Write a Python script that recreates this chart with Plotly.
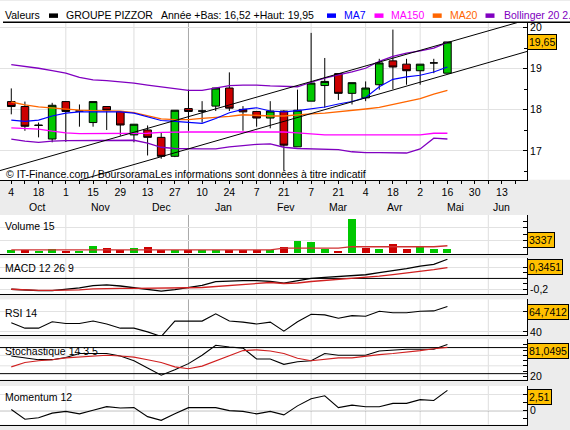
import pandas as pd
import plotly.graph_objects as go

# ---------------- data ----------------
weeks = pd.date_range("2004-10-04", periods=33, freq="7D")

opens = [18.20, 18.08, 17.63, 17.29, 18.20, 17.97, 17.69, 18.08, 17.96, 17.39, 17.51, 17.33, 16.87, 18.03, 17.97, 18.09, 18.53,
         18.01, 17.96, 17.80, 17.97, 17.10, 18.21, 18.59, 18.88, 18.40, 18.29, 18.61, 19.19, 19.11, 18.95, 19.14, 18.89]
highs = [18.52, 18.20, 17.69, 18.17, 18.21, 18.13, 18.20, 18.08, 17.96, 17.65, 17.62, 17.45, 17.99, 18.49, 18.21, 18.53, 18.91,
         18.09, 17.96, 18.21, 17.99, 18.49, 19.87, 19.26, 18.88, 18.66, 18.69, 19.24, 19.95, 19.24, 19.11, 19.24, 19.65]
lows = [17.89, 17.49, 17.33, 17.21, 17.22, 17.59, 17.59, 17.51, 17.37, 17.21, 16.89, 16.81, 16.85, 17.49, 17.69, 17.97, 17.97,
        17.49, 17.59, 17.55, 16.52, 17.10, 18.21, 18.05, 18.24, 18.13, 18.21, 18.49, 18.50, 18.61, 18.61, 18.89, 18.89]
closes = [18.08, 17.60, 17.62, 18.11, 17.96, 17.97, 18.20, 17.99, 17.63, 17.65, 17.33, 16.87, 17.99, 17.96, 17.97, 18.53, 18.04,
          17.95, 17.80, 17.97, 17.14, 17.99, 18.65, 18.69, 18.40, 18.66, 18.53, 19.14, 19.04, 18.95, 19.11, 19.14, 19.65]

ma7 = [17.75, 17.72, 17.75, 17.85, 17.92, 17.95, 17.95, 17.95, 17.95, 17.92, 17.83, 17.74, 17.72, 17.70, 17.67, 17.79, 17.93,
       18.01, 18.05, 17.97, 17.95, 17.98, 18.02, 18.07, 18.14, 18.20, 18.30, 18.56, 18.74, 18.80, 18.84, 18.92, 19.04]
ma20 = [18.19, 18.12, 18.07, 18.04, 18.01, 17.99, 17.98, 17.98, 17.97, 17.93, 17.86, 17.78, 17.76, 17.76, 17.79, 17.81, 17.84,
        17.88, 17.86, 17.85, 17.85, 17.88, 17.90, 17.92, 17.95, 17.98, 18.02, 18.06, 18.13, 18.19, 18.27, 18.38, 18.47]
ma150 = [17.56, 17.55, 17.53, 17.48, 17.44, 17.42, 17.42, 17.42, 17.42, 17.42, 17.43, 17.45, 17.46, 17.46, 17.46, 17.46, 17.46,
         17.46, 17.45, 17.46, 17.46, 17.44, 17.41, 17.39, 17.39, 17.39, 17.39, 17.39, 17.39, 17.39, 17.39, 17.43, 17.43]
bb_upper = [19.10, 19.06, 19.01, 18.95, 18.89, 18.79, 18.73, 18.71, 18.68, 18.65, 18.60, 18.56, 18.51, 18.47, 18.47, 18.53, 18.59,
            18.60, 18.60, 18.58, 18.57, 18.56, 18.67, 18.77, 18.85, 18.92, 19.01, 19.18, 19.30, 19.38, 19.43, 19.50, 19.64]
bb_lower = [17.29, 17.24, 17.21, 17.24, 17.25, 17.25, 17.25, 17.25, 17.26, 17.26, 17.19, 17.09, 17.06, 17.05, 17.05, 17.05, 17.10,
            17.13, 17.16, 17.17, 17.09, 17.06, 17.05, 17.05, 17.03, 16.98, 16.96, 16.96, 16.95, 16.95, 17.05, 17.31, 17.29]

channel_dates = ["2004-09-28", "2005-06-26"]
channel_upper = [16.52, 20.19]
channel_lower = [15.73, 19.42]

volume = [2320, 2690, 1300, 3340, 1300, 1300, 6400, 4360, 2690, 4360, 5380, 2690, 2690, 2690, 2690, 2690, 2690,
          2690, 2690, 2690, 5380, 11120, 10100, 3340, 1950, 31600, 4360, 3340, 8440, 3340, 5650, 3340, 3337]
volume_ma = [2700] * 20 + [4400] * 5 + [5700] * 7 + [6600]

macd = [-0.195, -0.214, -0.22, -0.22, -0.20, -0.168, -0.129, -0.116, -0.136, -0.162, -0.20, -0.227, -0.20, -0.162, -0.123,
        -0.057, -0.045, -0.038, -0.038, -0.052, -0.084, -0.038, 0.0, 0.02, 0.039, 0.052, 0.066, 0.105, 0.138, 0.177, 0.221,
        0.254, 0.3451]
macd_signal = [-0.195, -0.207, -0.214, -0.214, -0.214, -0.207, -0.189, -0.18, -0.18, -0.18, -0.18, -0.18, -0.171, -0.168,
               -0.163, -0.145, -0.127, -0.109, -0.10, -0.073, -0.091, -0.082, -0.055, -0.038, -0.02, -0.002, 0.016, 0.043,
               0.07, 0.096, 0.123, 0.159, 0.195]
rsi = [48.8, 43.6, 43.6, 49.9, 48.1, 48.1, 50.5, 47.7, 43.6, 43.6, 40.0, 35.5, 50.5, 50.5, 50.5, 57.6, 50.5, 49.5, 47.7,
       49.5, 40.7, 49.9, 57.2, 56.5, 53.3, 55.8, 55.2, 60.0, 58.6, 58.6, 60.0, 60.4, 64.7412]
stoch_k = [58.8, 54.6, 51.8, 51.8, 56.0, 63.6, 63.6, 63.6, 58.8, 49.8, 35.9, 22.1, 32.5, 44.2, 60.2, 79.5, 76.1, 74.0,
           53.2, 53.2, 42.8, 47.7, 49.8, 63.6, 60.2, 60.2, 60.2, 68.5, 70.6, 71.9, 71.9, 71.9, 81.0495]
stoch_d = [38.0, 46.3, 49.8, 51.8, 55.3, 57.4, 58.8, 60.2, 58.8, 56.7, 51.8, 46.3, 38.0, 34.5, 39.4, 49.8, 60.2, 69.2,
           70.6, 68.5, 63.6, 54.6, 49.8, 53.2, 55.3, 55.3, 58.8, 61.5, 63.6, 67.1, 69.2, 72.6, 75.4]
momentum = [0.14, -1.07, -0.89, -0.31, -0.09, -0.40, 0.05, 0.49, 0.32, 0.37, -0.75, -1.21, -0.40, 0.37, 0.37, 0.37, 0.0,
            -0.09, -0.40, -0.09, -0.53, 0.59, 1.48, 1.85, 0.37, 0.68, 0.49, 0.49, 0.90, 0.90, 1.36, 1.26, 2.51]

tick_dates = pd.date_range("2004-10-04", "2005-06-20", freq="7D")
month_names = ["Oct", "Nov", "Dec", "Jan", "Fev", "Mar", "Avr", "Mai", "Jun"]
month_label_dates = ["2004-10-17", "2004-11-19", "2004-12-20", "2005-01-21", "2005-02-22",
                     "2005-03-21", "2005-04-19", "2005-05-20", "2005-06-13"]
month_grid_dates = ["2004-11-01", "2004-12-06", "2005-01-03", "2005-02-07", "2005-03-07",
                    "2005-04-04", "2005-05-02", "2005-06-06"]
year_change_date = "2005-01-03"

# ---------------- layout helpers ----------------
W, H, PW = 570, 430, 527
FONT = "Liberation Sans, Arial, sans-serif"
FS = 10.5


def py(Y):
    return 1 - Y / H


def px(X):
    return X / PW


GREEN = "#00c800"
RED = "#cc0000"

fig = go.Figure()

fig.add_trace(go.Candlestick(
    x=weeks, open=opens, high=highs, low=lows, close=closes,
    increasing=dict(fillcolor=GREEN, line=dict(color="black", width=1)),
    decreasing=dict(fillcolor=RED, line=dict(color="black", width=1)),
    xaxis="x", yaxis="y", hoverinfo="skip", showlegend=False))


def add_line(x, y, color, xa, ya, width=1):
    fig.add_trace(go.Scatter(x=x, y=y, mode="lines", line=dict(color=color, width=width),
                             xaxis=xa, yaxis=ya, hoverinfo="skip", showlegend=False))


add_line(weeks, bb_upper, "#8000c0", "x", "y", 1.3)
add_line(weeks, bb_lower, "#8000c0", "x", "y", 1.3)
add_line(weeks, ma150, "#ff00ff", "x", "y", 1.3)
add_line(weeks, ma20, "#ff6600", "x", "y", 1.3)
add_line(weeks, ma7, "#0000ff", "x", "y", 1.1)
add_line(channel_dates, channel_upper, "black", "x", "y", 1)
add_line(channel_dates, channel_lower, "black", "x", "y", 1)

vol_colors = [GREEN] + [GREEN if closes[i] >= closes[i - 1] else RED for i in range(1, len(closes))]
fig.add_trace(go.Bar(x=weeks, y=volume, marker=dict(color=vol_colors, line=dict(width=0)),
                     width=4.1 * 86400000, xaxis="x2", yaxis="y2", hoverinfo="skip", showlegend=False))
add_line(weeks, volume_ma, "#d03030", "x2", "y2", 1.3)

add_line(weeks, macd, "black", "x3", "y3", 1.3)
add_line(weeks, macd_signal, "#d02020", "x3", "y3", 1.3)
add_line(weeks, rsi, "black", "x4", "y4", 1.1)
add_line(weeks, stoch_k, "black", "x5", "y5", 1.1)
add_line(weeks, stoch_d, "#d02020", "x5", "y5", 1.1)
add_line(weeks, momentum, "black", "x6", "y6", 1.1)

date_range = ["2004-09-28 04:48", "2005-06-25 21:00"]

xcommon = dict(type="date", range=date_range, showgrid=False, zeroline=False, showline=True,
               linecolor="black", linewidth=1, fixedrange=True, rangeslider=dict(visible=False))
ycommon = dict(side="right", showline=True, linecolor="black", linewidth=1, ticks="inside", ticklen=4,
               tickcolor="black", showgrid=True, gridcolor="#e2e2e2", gridwidth=1, zeroline=False,
               tickfont=dict(family=FONT, size=FS, color="black"), fixedrange=True)

layout = dict(
    width=W, height=H, margin=dict(l=0, r=W - PW, t=0, b=0),
    paper_bgcolor="#ececec", plot_bgcolor="white", showlegend=False,
    boxgap=0.2, boxgroupgap=0.3, bargap=0,
    font=dict(family=FONT, size=FS, color="black"),
)

tick_text = [str(d.day) if i % 2 == 0 else "" for i, d in enumerate(tick_dates)]
layout["xaxis"] = dict(xcommon, anchor="y", domain=[0, 1], ticks="outside", ticklen=3, tickcolor="black",
                       tickmode="array", tickvals=list(tick_dates), ticktext=tick_text,
                       tickfont=dict(family=FONT, size=FS, color="black"))
for k in ["2", "3", "4", "5", "6"]:
    layout["xaxis" + k] = dict(xcommon, anchor="y" + k, matches="x", showticklabels=False, ticks="")

layout["yaxis"] = dict(ycommon, anchor="x", domain=[py(180), py(21.5)], range=[16.30, 20.126],
                       tickmode="array", tickvals=[17, 18, 19, 20], ticktext=["17", "18", "19", "20"],
                       minor=dict(tickmode="array", tickvals=[16.5, 17.5, 18.5, 19.5], ticks="inside",
                                  ticklen=3, tickcolor="black", showgrid=False))
layout["yaxis2"] = dict(ycommon, anchor="x2", domain=[py(254.7), py(215.5)], range=[-1020, 35320],
                        tickmode="array", tickvals=[11100, 23500], ticktext=["", ""],
                        minor=dict(tickmode="array", tickvals=[4900, 17300, 29700], ticks="inside",
                                   ticklen=4, tickcolor="black", showgrid=False))
layout["yaxis3"] = dict(ycommon, anchor="x3", domain=[py(295), py(259)], range=[-0.279, 0.364],
                        tickmode="array", tickvals=[-0.2, 0.2], ticktext=["-0,2", ""],
                        minor=dict(tickmode="array", tickvals=[-0.1, 0, 0.1], ticks="inside",
                                   ticklen=4, tickcolor="black", showgrid=False))
layout["yaxis4"] = dict(ycommon, anchor="x4", domain=[py(336.5), py(300.5)], range=[36.8, 71.6],
                        tickmode="array", tickvals=[40, 60], ticktext=["40", ""])
layout["yaxis5"] = dict(ycommon, anchor="x5", domain=[py(381.2), py(340.5)], range=[13.7, 91.2],
                        tickmode="array", tickvals=[20, 50, 80], ticktext=["20", "", ""], showgrid=False,
                        minor=dict(tickmode="array", tickvals=[30, 40, 60, 70, 90], ticks="inside",
                                   ticklen=4, tickcolor="black", showgrid=False))
layout["yaxis6"] = dict(ycommon, anchor="x6", domain=[py(426.6), py(387.7)], range=[-1.74, 3.06],
                        tickmode="array", tickvals=[0, 2], ticktext=["0", ""],
                        minor=dict(tickmode="array", tickvals=[-1, 1], ticks="inside",
                                   ticklen=4, tickcolor="black", showgrid=False))

shapes = []
shapes.append(dict(type="rect", xref="paper", yref="paper", x0=0, x1=px(W), y0=py(180), y1=py(0),
                   fillcolor="white", line=dict(width=0), layer="below"))
shapes.append(dict(type="line", xref="paper", yref="paper", x0=px(3), x1=px(W), y0=py(21.5), y1=py(21.5),
                   line=dict(color="black", width=1.5)))
for k in ["", "2", "3", "4", "5", "6"]:
    for d in month_grid_dates:
        col = "#a8a8a8" if d == year_change_date else "#dedede"
        shapes.append(dict(type="line", xref="x" + k, yref="y" + k + " domain", x0=d, x1=d, y0=0, y1=1,
                           line=dict(color=col, width=1), layer="below"))
for k, val in [("3", 0), ("5", 25), ("5", 75), ("6", 0)]:
    shapes.append(dict(type="line", xref="x" + k + " domain", yref="y" + k, x0=0, x1=1, y0=val, y1=val,
                       line=dict(color="black", width=1), layer="below"))
for k, val in [("5", 40), ("5", 60)]:
    shapes.append(dict(type="line", xref="x" + k + " domain", yref="y" + k, x0=0, x1=1, y0=val, y1=val,
                       line=dict(color="#e2e2e2", width=1), layer="below"))

legend_items = [(49, "black"), (327, "#0000ff"), (374.5, "#ff00ff"), (432.7, "#ff6600"), (485.5, "#8000c0")]
for x0, col in legend_items:
    shapes.append(dict(type="rect", xref="paper", yref="paper", x0=px(x0), x1=px(x0 + 9), y0=py(17),
                       y1=py(12.5), fillcolor=col, line=dict(width=0)))
layout["shapes"] = shapes

ann = []


def text(x, Y, s, color="black", size=FS, xanchor="left"):
    ann.append(dict(xref="paper", yref="paper", x=px(x), y=py(Y), text=s, showarrow=False,
                    xanchor=xanchor, yanchor="middle", font=dict(family=FONT, size=size, color=color)))


HY = 14.5
text(3, HY, "Valeurs")
text(64, HY, "GROUPE PIZZOR")
text(159, HY, "Année +Bas: 16,52 +Haut: 19,95")
text(342, HY, "MA7", "#0000ff")
text(389, HY, "MA150", "#ff00ff")
text(447.5, HY, "MA20", "#ff6600")
text(501.5, HY, "Bollinger 20 2.", "#8000c0")
text(4, 174, "© IT-Finance.com / BoursoramaLes informations sont données à titre indicatif")
text(3, 227, "Volume 15")
text(3, 268.5, "MACD 12 26 9")
text(3, 314, "RSI 14")
text(3, 352.5, "Stochastique 14 3 5")
text(3, 399, "Momentum 12")

for name, d in zip(month_names, month_label_dates):
    ann.append(dict(xref="x", yref="paper", x=d, y=py(207), text=name, showarrow=False, xanchor="center",
                    yanchor="middle", font=dict(family=FONT, size=FS, color="black")))


def value_box(Y, s):
    ann.append(dict(xref="paper", yref="paper", x=px(PW), y=py(Y), text=s, showarrow=False, xanchor="left",
                    yanchor="middle", bgcolor="#ffc000", bordercolor="black", borderwidth=1, borderpad=1,
                    font=dict(family=FONT, size=FS, color="black")))


value_box(41, "19,65")
value_box(240.5, "3337")
value_box(268, "0,3451")
value_box(313, "64,7412")
value_box(352.5, "81,0495")
value_box(398.6, "2,51")

layout["annotations"] = ann
fig.update_layout(**layout)
fig.write_html("out.html", config={"displayModeBar": False},
               post_script="document.body.style.margin='0';document.body.style.padding='0';"
                           "document.body.style.overflow='hidden';")
